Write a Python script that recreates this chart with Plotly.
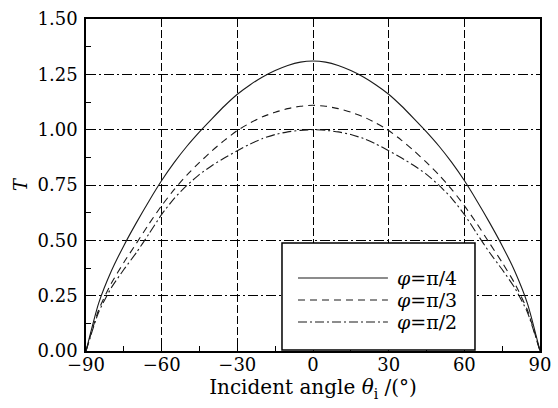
import plotly.graph_objects as go

# Data; curves are symmetric about 0
half_angles = [0, 5, 10, 15, 20, 25, 30, 35, 40, 45, 50, 55, 60, 65, 70, 75, 80, 85, 90]
half_pi4 = [1.31, 1.305, 1.29, 1.267, 1.238, 1.202, 1.16, 1.108, 1.05, 0.99, 0.925, 0.852, 0.77,
            0.678, 0.58, 0.476, 0.36, 0.215, 0.0]
half_pi3 = [1.11, 1.106, 1.095, 1.079, 1.058, 1.03, 0.996, 0.953, 0.905, 0.852, 0.795, 0.73, 0.657,
            0.575, 0.487, 0.40, 0.305, 0.185, 0.0]
half_pi2 = [1.00, 0.997, 0.99, 0.978, 0.96, 0.935, 0.905, 0.873, 0.838, 0.798, 0.748, 0.69, 0.617,
            0.53, 0.445, 0.368, 0.285, 0.175, 0.0]


def mirror(vals):
    return vals[:0:-1] + vals


x_vals = [-a for a in half_angles[:0:-1]] + half_angles
T_pi4 = mirror(half_pi4)
T_pi3 = mirror(half_pi3)
T_pi2 = mirror(half_pi2)

series_names = ["<i>φ</i>=π/4", "<i>φ</i>=π/3", "<i>φ</i>=π/2"]
series_dash = ["solid", "7px,5px", "9px,3px,2px,3px"]
x_ticks = [-90, -60, -30, 0, 30, 60, 90]
y_ticks = [0, 0.25, 0.5, 0.75, 1.0, 1.25, 1.5]
y_ticklabels = ["0.00", "0.25", "0.50", "0.75", "1.00", "1.25", "1.50"]

FONT = "DejaVu Serif"

fig = go.Figure()
for name, ys, dash in zip(series_names, [T_pi4, T_pi3, T_pi2], series_dash):
    fig.add_trace(go.Scatter(x=x_vals, y=ys, mode="lines", name=name,
                             line=dict(color="#1a1a1a", width=1.1, dash=dash, shape="spline", smoothing=0.6),
                             showlegend=False))

# manual legend (box, samples, labels) in paper coordinates
fig.add_shape(type="rect", xref="paper", yref="paper", x0=0.4317, x1=0.8568, y0=0.003, y1=0.3253,
              line=dict(color="black", width=1.5), fillcolor="white", layer="above")
rows_y = [0.2199, 0.1536, 0.0873]
for name, dash, yy in zip(series_names, series_dash, rows_y):
    fig.add_shape(type="line", xref="paper", yref="paper", x0=0.467, x1=0.665, y0=yy, y1=yy,
                  line=dict(color="#1a1a1a", width=1.1, dash=dash), layer="above")
    fig.add_annotation(xref="paper", yref="paper", x=0.6806, y=yy, text=name, showarrow=False,
                       xanchor="left", yanchor="middle", font=dict(family=FONT, size=19, color="black"))

fig.update_layout(
    width=558, height=408,
    margin=dict(l=86, r=18, t=19, b=57),
    paper_bgcolor="white", plot_bgcolor="white",
    font=dict(family=FONT, size=18, color="black"),
)
fig.update_xaxes(
    range=[-90, 90], tickvals=x_ticks, ticks="inside", ticklen=7, tickwidth=1.2, tickcolor="black",
    minor=dict(dtick=15, ticks="inside", ticklen=5, tickwidth=1.2, tickcolor="black", showgrid=False),
    showline=True, linecolor="black", linewidth=1.6, mirror=True,
    showgrid=True, gridcolor="black", gridwidth=1.1, griddash="8px,3px",
    zeroline=False, automargin=False, ticklabelstandoff=-3,
    title=dict(text="Incident angle <i>θ</i><sub>i</sub> /(°)", font=dict(family=FONT, size=20), standoff=5),
    tickfont=dict(family=FONT, size=18),
)
fig.update_yaxes(
    range=[0, 1.5], tickvals=y_ticks, ticktext=y_ticklabels, ticks="inside", ticklen=7, tickwidth=1.2,
    tickcolor="black",
    minor=dict(dtick=0.125, ticks="inside", ticklen=5, tickwidth=1.2, tickcolor="black", showgrid=False),
    showline=True, linecolor="black", linewidth=1.6, mirror=True,
    showgrid=True, gridcolor="black", gridwidth=1.1, griddash="10px,3px,2px,3px",
    zeroline=False, automargin=False, ticklabelstandoff=3,
    title=dict(text="<i>T</i>", font=dict(family=FONT, size=18), standoff=5),
    tickfont=dict(family=FONT, size=18),
)

fig.write_html("out.html", config={"displayModeBar": False},
               post_script="document.body.style.margin='0';document.body.style.overflow='hidden';")
